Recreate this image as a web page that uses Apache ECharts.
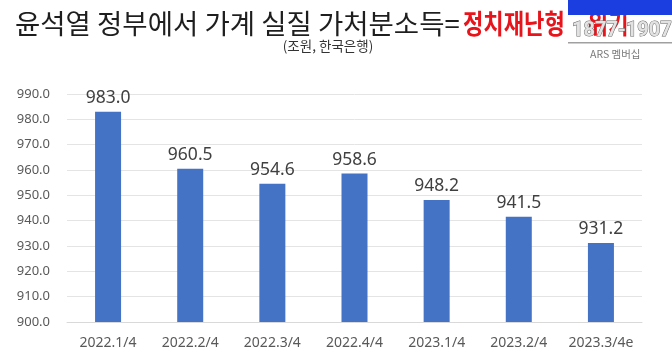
<!DOCTYPE html>
<html><head><meta charset="utf-8">
<script src="https://cdn.jsdelivr.net/npm/echarts@6/dist/echarts.min.js"></script>
<style>html,body{margin:0;padding:0;background:#fff}#c{width:672px;height:363px}</style>
</head><body><div id="c"></div>
<script>
const categories = ['2022.1/4','2022.2/4','2022.3/4','2022.4/4','2023.1/4','2023.2/4','2023.3/4e'];
const values = [983.0, 960.5, 954.6, 958.6, 948.2, 941.5, 931.2];
const yTicks = [900, 910, 920, 930, 940, 950, 960, 970, 980, 990];

const chart = echarts.init(document.getElementById('c'));
chart.setOption({
  animation: false,
  backgroundColor: '#fff',
  graphic: [
    { type: 'text', x: 15, y: 24, z: 10,
      style: { text: '윤석열 정부에서 가계 실질 가처분소득=', fontFamily: 'Noto Sans CJK KR', fontSize: 27.5, fill: '#1e1e1e', verticalAlign: 'middle' } },
    { type: 'text', x: 463, y: 24, z: 10, scaleX: 0.82, originX: 0,
      style: { text: '{b|정치재난형}{s| }{b|위기}', verticalAlign: 'middle',
        rich: {
          b: { fontFamily: 'Noto Sans CJK KR', fontSize: 27, fontWeight: 'bold', fill: '#e8141b', color: '#e8141b' },
          s: { fontFamily: 'Noto Sans CJK KR', fontSize: 27, width: 28 }
        } } },
    { type: 'text', x: 328, y: 46, z: 10,
      style: { text: '(조원, 한국은행)', fontFamily: 'Noto Sans CJK KR', fontSize: 13.5, fill: '#333', align: 'center', verticalAlign: 'middle' } },
    { type: 'rect', z: 100, shape: { x: 568, y: 0, width: 104, height: 15 }, style: { fill: '#1a3ee0' } },
    { type: 'text', x: 572, y: 31, z: 100,
      style: { text: '1877-1907', fontFamily: 'Roboto', fontSize: 20, fontWeight: 'bold', fill: '#e2e2e2', stroke: '#6a6a6a', lineWidth: 1, verticalAlign: 'middle' } },
    { type: 'rect', z: 100, shape: { x: 568, y: 42, width: 104, height: 1.5 }, style: { fill: '#a0a0a0' } },
    { type: 'text', x: 590, y: 54.5, z: 100,
      style: { text: 'ARS 멤버십', fontFamily: 'Noto Sans CJK KR', fontSize: 10.5, fill: '#7a7a7a', verticalAlign: 'middle' } }
  ],
  grid: { left: 67, right: 30, top: 94, bottom: 41 },
  xAxis: {
    type: 'category', data: categories,
    axisLine: { lineStyle: { color: '#d9d9d9', width: 1 } },
    axisTick: { show: false },
    axisLabel: { color: '#595959', fontSize: 14, fontFamily: 'Noto Sans', margin: 14, interval: 0 }
  },
  yAxis: {
    type: 'value', min: yTicks[0], max: yTicks[yTicks.length - 1], interval: 10,
    axisLine: { show: false }, axisTick: { show: false },
    splitLine: { lineStyle: { color: '#e4e4e4', width: 1 } },
    axisLabel: { color: '#595959', fontSize: 13, fontFamily: 'Noto Sans', margin: 17, formatter: v => v.toFixed(1) }
  },
  series: [{
    type: 'bar', data: values, barWidth: 26,
    itemStyle: { color: '#4472c4' },
    label: { show: true, position: 'top', distance: 5, color: '#404040', fontSize: 17.5, fontFamily: 'Noto Sans', formatter: p => p.value.toFixed(1) }
  }]
});
</script></body></html>
